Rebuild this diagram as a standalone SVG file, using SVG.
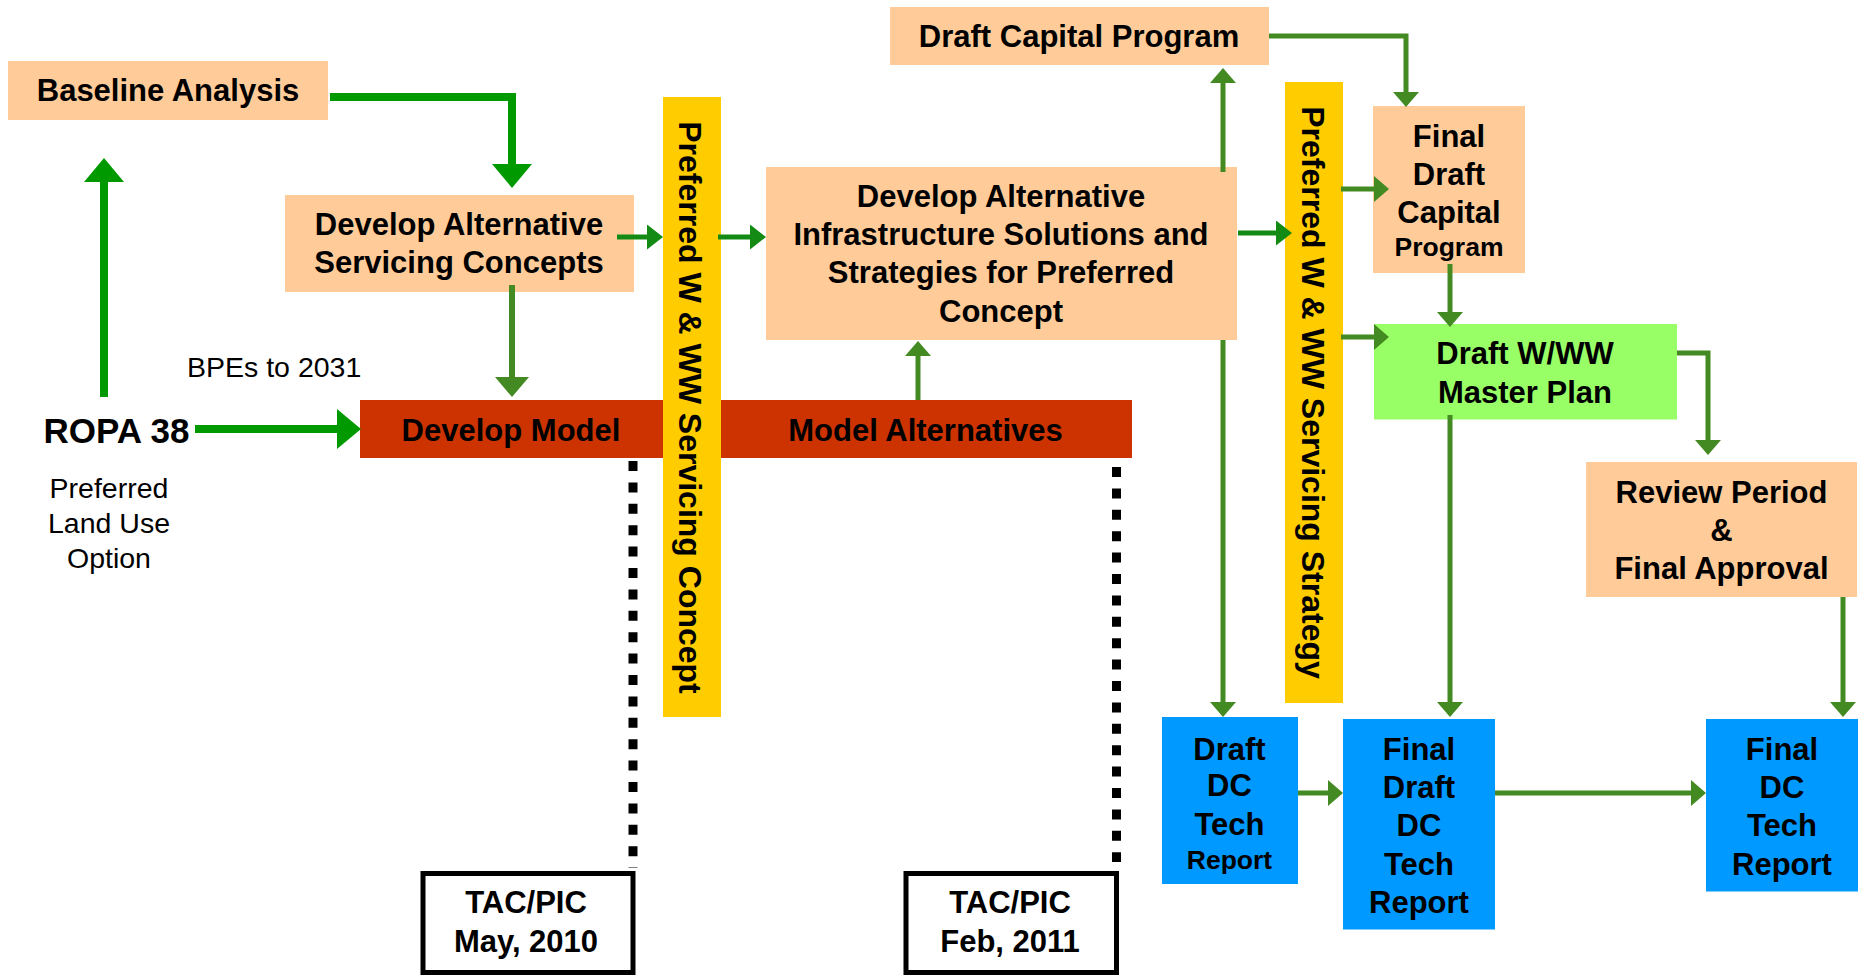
<svg xmlns="http://www.w3.org/2000/svg" width="1860" height="975" viewBox="0 0 1860 975">
<style>
.pe{fill:#ffcc99}
.rd{fill:#cc3300}
.ye{fill:#ffcc00}
.gr{fill:#99ff66}
.bl{fill:#0099ff}
.tb{fill:#fff;stroke:#000;stroke-width:5}
text{font-family:"Liberation Sans",Arial,Helvetica,sans-serif;fill:#000}
.b{font-weight:bold;font-size:31px;text-anchor:middle}
.s{font-size:26.5px}
.r{font-size:28.5px;text-anchor:middle}
.v{font-weight:bold;font-size:32px;text-anchor:middle}
.thick{fill:none;stroke:#009900;stroke-width:8;marker-end:url(#aT)}
.med{fill:none;stroke:#138a13;stroke-width:5;marker-end:url(#aM)}
.ol{fill:none;stroke:#448a22;stroke-width:5;marker-end:url(#aO)}
.olb{fill:none;stroke:#448a22;stroke-width:6;marker-end:url(#aOB)}
.dot{fill:none;stroke:#000;stroke-width:9;stroke-dasharray:10 11.4}
</style>
<defs>
<marker id="aT" markerUnits="userSpaceOnUse" markerWidth="24" markerHeight="40" refX="0" refY="20" orient="auto"><path d="M0,0L24,20L0,40z" fill="#009900"/></marker>
<marker id="aM" markerUnits="userSpaceOnUse" markerWidth="16" markerHeight="25" refX="0" refY="12.5" orient="auto"><path d="M0,0L16,12.5L0,25z" fill="#138a13"/></marker>
<marker id="aO" markerUnits="userSpaceOnUse" markerWidth="15" markerHeight="26" refX="0" refY="13" orient="auto"><path d="M0,0L15,13L0,26z" fill="#448a22"/></marker>
<marker id="aOB" markerUnits="userSpaceOnUse" markerWidth="20" markerHeight="34" refX="0" refY="17" orient="auto"><path d="M0,0L20,17L0,34z" fill="#448a22"/></marker>
</defs>

<g id="baseline-analysis"><rect class="pe" x="8" y="61" width="320" height="59"/><text class="b" x="168" y="101">Baseline Analysis</text></g>
<g id="dev-alt-servicing"><rect class="pe" x="285" y="195" width="349" height="97"/><text class="b" x="459" y="235">Develop Alternative</text><text class="b" x="459" y="273">Servicing Concepts</text></g>
<g id="ropa38"><text class="b" x="116.5" y="443" style="font-size:35px">ROPA 38</text></g>
<g id="preferred-land-use"><text class="r" x="109" y="498">Preferred</text><text class="r" x="109" y="533">Land Use</text><text class="r" x="109" y="568">Option</text></g>
<g id="bpes"><text x="187" y="377" style="font-size:28.5px">BPEs to 2031</text></g>
<g id="develop-model"><rect class="rd" x="360" y="400" width="303" height="58"/><text class="b" x="511" y="441">Develop Model</text></g>
<g id="model-alternatives"><rect class="rd" x="721" y="400" width="411" height="58"/><text class="b" x="925.5" y="441">Model Alternatives</text></g>
<g id="servicing-concept-bar"><rect class="ye" x="663" y="97" width="58" height="620"/><text class="v" transform="translate(679,407.5) rotate(90)">Preferred W &amp; WW Servicing Concept</text></g>
<g id="dev-alt-infrastructure"><rect class="pe" x="766" y="167" width="471" height="173"/><text class="b" x="1001" y="207">Develop Alternative</text><text class="b" x="1001" y="245">Infrastructure Solutions and</text><text class="b" x="1001" y="283">Strategies for Preferred</text><text class="b" x="1001" y="322">Concept</text></g>
<g id="draft-capital-program"><rect class="pe" x="890" y="7" width="379" height="58"/><text class="b" x="1079" y="47">Draft Capital Program</text></g>
<g id="servicing-strategy-bar"><rect class="ye" x="1285" y="82" width="58" height="621"/><text class="v" transform="translate(1302,392.5) rotate(90)">Preferred W &amp; WW Servicing Strategy</text></g>
<g id="final-draft-capital-program"><rect class="pe" x="1373" y="106" width="152" height="167"/><text class="b" x="1449" y="147">Final</text><text class="b" x="1449" y="185">Draft</text><text class="b" x="1449" y="223">Capital</text><text class="b s" x="1449" y="256">Program</text></g>
<g id="draft-master-plan"><rect class="gr" x="1374" y="324" width="303" height="95.5"/><text class="b" x="1525" y="364">Draft W/WW</text><text class="b" x="1525" y="403">Master Plan</text></g>
<g id="review-period"><rect class="pe" x="1586" y="462" width="271" height="135"/><text class="b" x="1721.5" y="503">Review Period</text><text class="b" x="1721.5" y="541">&amp;</text><text class="b" x="1721.5" y="579">Final Approval</text></g>
<g id="draft-dc-report"><rect class="bl" x="1162" y="717" width="136" height="167"/><text class="b" x="1229.5" y="759.5">Draft</text><text class="b" x="1229.5" y="796">DC</text><text class="b" x="1229.5" y="835">Tech</text><text class="b s" x="1229.5" y="869">Report</text></g>
<g id="final-draft-dc-report"><rect class="bl" x="1343" y="719" width="152" height="210.5"/><text class="b" x="1419" y="759.5">Final</text><text class="b" x="1419" y="797.5">Draft</text><text class="b" x="1419" y="835.5">DC</text><text class="b" x="1419" y="874.5">Tech</text><text class="b" x="1419" y="912.5">Report</text></g>
<g id="final-dc-report"><rect class="bl" x="1706" y="719" width="152" height="172.5"/><text class="b" x="1782" y="759.5">Final</text><text class="b" x="1782" y="797.5">DC</text><text class="b" x="1782" y="835.5">Tech</text><text class="b" x="1782" y="874.5">Report</text></g>
<g id="tac-may-2010"><rect class="tb" x="423" y="873.5" width="210" height="99"/><text class="b" x="526" y="913">TAC/PIC</text><text class="b" x="526" y="952">May, 2010</text></g>
<g id="tac-feb-2011"><rect class="tb" x="906" y="873.5" width="210.5" height="99"/><text class="b" x="1010" y="913">TAC/PIC</text><text class="b" x="1010" y="952">Feb, 2011</text></g>

<g id="connectors">
<path class="thick" d="M330,97H512V164"/>
<path class="thick" d="M104,397V182"/>
<path class="thick" d="M195,429H337"/>
<path class="med" d="M617,237H647"/>
<path class="med" d="M718,237H750"/>
<path class="med" d="M1238,233H1276"/>
<path class="olb" d="M512,285V377"/>
<path class="ol" d="M1223,172V83"/>
<path class="ol" d="M918,400V356"/>
<path class="ol" d="M1223,340V702"/>
<path class="ol" d="M1269,36H1406V92"/>
<path class="ol" d="M1341,189H1374"/>
<path class="ol" d="M1341,337H1374"/>
<path class="ol" d="M1450,264V312"/>
<path class="ol" d="M1677,353H1708V440"/>
<path class="ol" d="M1450,415V702"/>
<path class="ol" d="M1843,597V702"/>
<path class="ol" d="M1298,793H1328"/>
<path class="ol" d="M1495,793H1691"/>
<path class="dot" d="M633,461V868"/>
<path class="dot" d="M1116.5,467V862"/>
</g>
</svg>
